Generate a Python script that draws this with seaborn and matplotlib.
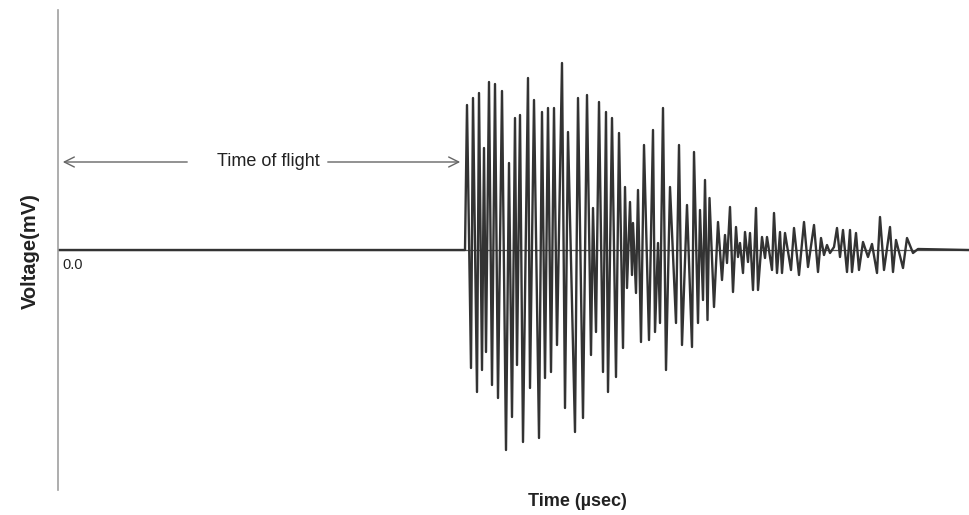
import matplotlib
matplotlib.use("Agg")
import matplotlib.pyplot as plt
import seaborn as sns
import pandas as pd

# Waveform: time (µs) and voltage (mV) at the turning points
time_us = [0.0, 40.7,
           40.9, 41.3, 41.5, 41.9, 42.1, 42.4, 42.6, 42.8, 43.1, 43.4, 43.7, 44.0,
           44.4, 44.8, 45.1, 45.4, 45.7, 45.9, 46.2, 46.5, 47.0, 47.2, 47.6, 48.1,
           48.4, 48.7, 49.0, 49.3, 49.6, 49.9, 50.4, 50.7, 51.0, 51.7, 52.0, 52.5,
           52.9, 53.3, 53.5, 53.8, 54.1, 54.5, 54.8, 55.0, 55.4, 55.8, 56.1, 56.5,
           56.7, 56.9, 57.2, 57.4, 57.5, 57.8, 58.0, 58.3, 58.6, 59.1, 59.5, 59.7,
           60.0, 60.2, 60.5, 60.8, 61.2, 61.8, 62.1, 62.4, 62.9, 63.4, 63.6, 64.0,
           64.2, 64.5, 64.7, 64.95, 65.15, 65.6, 66.0, 66.4, 66.7, 66.9, 67.2, 67.5,
           67.8, 68.0, 68.2, 68.5, 68.7, 69.0, 69.2, 69.5, 69.8, 70.0, 70.4, 70.7,
           70.9, 71.4, 71.6, 71.9, 72.2, 72.4, 72.7, 73.3, 73.6, 74.1, 74.6, 75.0,
           75.6, 76.0, 76.3, 76.6, 76.9, 77.2, 77.6, 77.9, 78.2, 78.5, 78.9, 79.2,
           79.4, 79.8, 80.1, 80.5, 81.0, 81.4, 81.9, 82.2, 82.6, 83.2, 83.5, 83.8,
           84.5, 84.9, 85.5, 86.0, 91.1]
voltage_mv = [0.0, 0.0,
              14.5, -11.8, 15.2, -14.2, 15.7, -12.0, 10.2, -10.2, 16.8, -13.5, 16.6, -14.8,
              15.9, -20.0, 8.7, -16.7, 13.2, -11.5, 13.5, -19.2, 17.2, -13.8, 15.0, -18.8,
              13.8, -12.8, 14.2, -12.2, 14.2, -9.5, 18.7, -15.8, 11.8, -18.2, 15.2, -16.8,
              15.5, -10.5, 4.2, -8.2, 14.8, -12.2, 13.8, -14.2, 13.2, -12.7, 11.7, -9.8,
              6.3, -3.8, 4.8, -2.5, 2.7, -4.3, 6.0, -9.2, 10.5, -9.0, 12.0, -8.2,
              0.7, -7.3, 14.2, -12.0, 6.3, -7.3, 10.5, -9.5, 4.5, -9.7, 9.8, -7.3,
              4.0, -5.0, 7.0, -7.0, 5.2, -5.7, 2.8, -3.0, 1.5, -1.3, 4.3, -4.2,
              2.3, -0.7, 0.7, -2.3, 1.8, -1.2, 1.7, -4.0, 4.2, -4.0, 1.3, -0.8,
              1.3, -2.0, 3.7, -2.3, 1.8, -2.3, 1.7, -2.0, 2.2, -2.5, 2.8, -1.7,
              2.5, -2.2, 1.2, -0.5, 0.5, -0.3, 0.3, 2.2, -0.7, 2.0, -2.2, 2.0,
              -2.2, 1.7, -2.0, 0.8, -0.7, 0.6, -2.3, 3.3, -2.0, 2.3, -2.2, 1.0,
              -1.8, 1.2, -0.3, 0.1, 0.0]

tof_start, tof_end = 0.2, 40.5
arrow_level = 8.8

df = pd.DataFrame({"t": time_us, "v": voltage_mv})

sns.set_theme(style="white")
plt.rcParams['font.family'] = ['Liberation Sans', 'DejaVu Sans']

fig = plt.figure(figsize=(9.69, 5.15), dpi=100)
ax = fig.add_axes([58/969, 25/515, 911/969, 480/515])

ax.axhline(0, color="#555555", lw=0.9, zorder=1)
sns.lineplot(data=df, x="t", y="v", estimator=None, sort=False,
             color="#333333", lw=1.7, ax=ax, zorder=2)

ax.set_xlim(0, 91.1)
ax.set_ylim(-24, 24)
ax.set_xticks([])
ax.set_yticks([])
ax.set_xlabel("")
ax.set_ylabel("")
for s in ["top", "right", "bottom"]:
    ax.spines[s].set_visible(False)
ax.spines["left"].set_color("#a0a0a0")
ax.spines["left"].set_linewidth(1.2)

arrow_kw = dict(arrowstyle="->", color="#666666", lw=1.0, mutation_scale=18)
ax.annotate("", xy=(tof_start, arrow_level), xytext=(13.2, arrow_level), arrowprops=arrow_kw)
ax.annotate("", xy=(tof_end, arrow_level), xytext=(26.7, arrow_level), arrowprops=arrow_kw)
ax.text(21.05, arrow_level, "Time of flight", ha="center", va="center", fontsize=13, color="#222222")
ax.text(0.4, -1.5, "0.0", ha="left", va="center", fontsize=10.5, color="#222222")

fig.text(30/969, 1 - 251/515, "Voltage(mV)", rotation=90, ha="center", va="center",
         fontsize=14.5, fontweight="bold", color="#222222")
fig.text(577/969, 1 - 502/515, "Time (µsec)", ha="center", va="center",
         fontsize=13, fontweight="bold", color="#222222")

fig.savefig("out.png", dpi=100)
